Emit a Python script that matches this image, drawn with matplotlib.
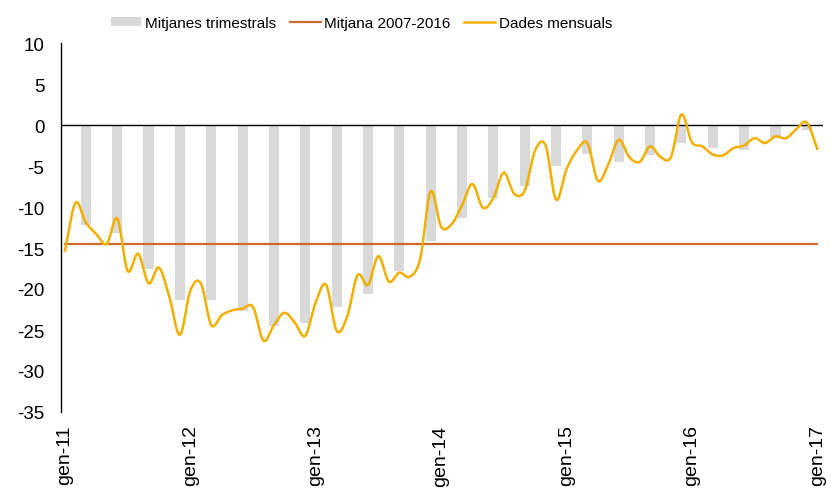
import numpy as np
import matplotlib
matplotlib.use("Agg")
import matplotlib.pyplot as plt
from matplotlib.patches import Patch
from matplotlib.lines import Line2D

plt.rcParams['font.family'] = ['Liberation Sans', 'DejaVu Sans']
plt.rcParams['axes.unicode_minus'] = False

# dades mensuals gen-11 .. gen-17 (73 mesos)
dades_mensuals = [
    -15.3, -9.5, -11.9, -13.3, -14.5, -11.4, -17.8, -15.7, -19.3, -17.4,
    -21.0, -25.6, -20.2, -19.3, -24.4, -23.2, -22.6, -22.4, -22.2, -26.3,
    -24.4, -22.9, -24.1, -25.7, -21.6, -19.5, -25.1, -23.4, -18.3, -19.5,
    -16.0, -19.1, -18.0, -18.5, -16.3, -8.1, -12.4, -12.1, -9.8, -7.2,
    -10.1, -8.9, -5.8, -8.4, -8.0, -3.1, -2.5, -9.1, -5.4, -3.1,
    -2.2, -6.8, -4.8, -1.8, -3.9, -4.5, -2.6, -3.9, -3.9, 1.3,
    -2.1, -2.6, -3.6, -3.7, -2.8, -2.5, -1.6, -2.2, -1.4, -1.6,
    -0.5, 0.3, -2.9,
]

# mitjanes trimestrals (final de cada trimestre 2011-2016)
mitjanes_trimestrals = [
    -12.2, -13.2, -17.5, -21.4, -21.3, -22.7, -24.5, -24.1, -22.2, -20.6,
    -17.8, -14.2, -11.3, -8.9, -7.4, -5.0, -3.5, -4.5, -3.7, -2.2,
    -2.8, -3.0, -1.6, -0.6,
]

mitjana_2007_2016 = -14.5

anys = ['gen-11', 'gen-12', 'gen-13', 'gen-14', 'gen-15', 'gen-16', 'gen-17']

mesos = np.arange(len(dades_mensuals))
mesos_trim = np.arange(len(mitjanes_trimestrals)) * 3 + 2


def suavitza(x, y, n=20):
    # corba tipus Catmull-Rom, semblant a la linia suavitzada d'Excel
    x = np.asarray(x, float)
    y = np.asarray(y, float)
    px = np.concatenate([[2 * x[0] - x[1]], x, [2 * x[-1] - x[-2]]])
    py = np.concatenate([[2 * y[0] - y[1]], y, [2 * y[-1] - y[-2]]])
    xs, ys = [], []
    t = np.linspace(0, 1, n, endpoint=False)
    for i in range(1, len(px) - 2):
        for p, out in ((px, xs), (py, ys)):
            p0, p1, p2, p3 = p[i - 1], p[i], p[i + 1], p[i + 2]
            out.extend(0.5 * (2 * p1 + (-p0 + p2) * t
                              + (2 * p0 - 5 * p1 + 4 * p2 - p3) * t ** 2
                              + (-p0 + 3 * p1 - 3 * p2 + p3) * t ** 3))
    xs.append(x[-1])
    ys.append(y[-1])
    return np.array(xs), np.array(ys)


fig = plt.figure(figsize=(8.31, 4.89), dpi=100)
ax = fig.add_axes([61 / 831, 1 - 413 / 489, (823 - 61) / 831, (413 - 44) / 489])

c_barra = '#D9D9D9'
c_mitjana = '#CD6B2E'
c_linia = '#F2AF00'

ax.bar(mesos_trim, mitjanes_trimestrals, width=0.97, color=c_barra, zorder=1)
ax.axhline(0, color='black', lw=1.0, zorder=2)
ax.plot([mesos[0], mesos[-1]], [mitjana_2007_2016] * 2, color=c_mitjana, lw=1.6, zorder=3)
sx, sy = suavitza(mesos, dades_mensuals)
ax.plot(sx, sy, color=c_linia, lw=1.8, zorder=4)

ax.set_xlim(-0.38, 72.55)
ax.set_ylim(-35, 10)
ax.set_yticks(np.arange(-35, 11, 5))
ax.tick_params(axis='y', length=0, pad=12, labelsize=13.5)
ax.set_xticks(np.arange(len(anys)) * 12)
ax.set_xticklabels(anys, rotation=90, va='top', ha='center')
ax.tick_params(axis='x', length=0, pad=9, labelsize=14)

for s in ['top', 'right', 'bottom']:
    ax.spines[s].set_visible(False)
ax.spines['left'].set_color('black')
ax.spines['left'].set_linewidth(1.0)

handles = [
    Patch(facecolor=c_barra, edgecolor='none'),
    Line2D([], [], color=c_mitjana, lw=1.6),
    Line2D([], [], color=c_linia, lw=1.8),
]
fig.legend(handles, ['Mitjanes trimestrals', 'Mitjana 2007-2016', 'Dades mensuals'],
           loc='center', bbox_to_anchor=(0.435, 0.951), ncol=3, frameon=False,
           fontsize=11, handlelength=2.0, handleheight=0.6, handletextpad=0.25,
           columnspacing=0.9)

fig.savefig('out.png', dpi=100)
